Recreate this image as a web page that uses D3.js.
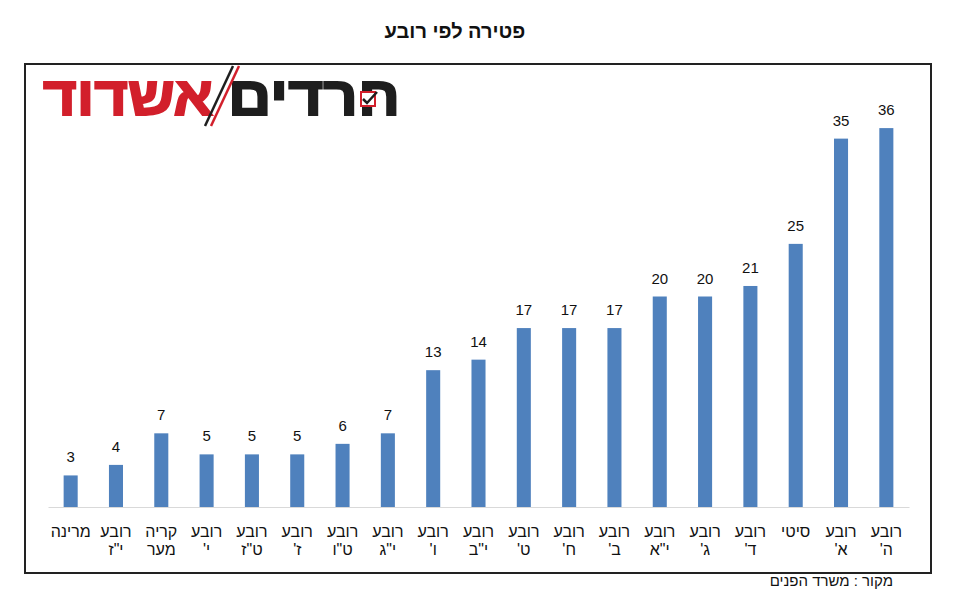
<!DOCTYPE html>
<html lang="he">
<head>
    <meta charset="UTF-8">
    <title>פטירה לפי רובע</title>
    <script src="https://cdn.jsdelivr.net/npm/d3@7"></script>
    <style>
        body { margin: 0; background: #fff; }
        #chart { width: 955px; height: 606px; }
        text { font-family: "Liberation Sans", Arial, sans-serif; }
    </style>
</head>
<body>
<div id="chart"></div>
<script type="text/javascript">
    // data, left to right as in the picture
    var categories = ['מרינה', 'רובע י"ז', 'קריה מער', "רובע י'", 'רובע ט"ז', "רובע ז'", 'רובע ט"ו',
        'רובע י"ג', "רובע ו'", 'רובע י"ב', "רובע ט'", "רובע ח'", "רובע ב'", 'רובע י"א',
        "רובע ג'", "רובע ד'", 'סיטי', "רובע א'", "רובע ה'"];
    var values = [3, 4, 7, 5, 5, 5, 6, 7, 13, 14, 17, 17, 17, 20, 20, 21, 25, 35, 36];
    var title = 'פטירה לפי רובע';
    var source = 'מקור : משרד הפנים';

    var svgw = 955, svgh = 606;
    var svg = d3.select('#chart')
        .append('svg')
        .attr('width', svgw)
        .attr('height', svgh);

    // title
    svg.append('text')
        .text(title)
        .attr('x', 455)
        .attr('y', 38)
        .attr('text-anchor', 'middle')
        .attr('direction', 'rtl')
        .attr('font-size', 20)
        .attr('font-weight', 'bold')
        .attr('fill', '#111');

    // frame
    svg.append('rect')
        .attr('x', 25).attr('y', 64)
        .attr('width', 906).attr('height', 509)
        .attr('fill', 'none')
        .attr('stroke', '#222')
        .attr('stroke-width', 2);

    // logo
    var logo = svg.append('g');
    logo.append('text')
        .text('אשדוד')
        .attr('x', 43).attr('y', 115)
        .attr('font-size', 54).attr('font-weight', 'bold')
        .attr('textLength', 170).attr('lengthAdjust', 'spacingAndGlyphs')
        .attr('fill', '#d21f2b').attr('stroke', '#d21f2b').attr('stroke-width', 2);
    logo.append('text')
        .text('חרדים')
        .attr('x', 228).attr('y', 115)
        .attr('font-size', 54).attr('font-weight', 'bold')
        .attr('textLength', 172).attr('lengthAdjust', 'spacingAndGlyphs')
        .attr('fill', '#1e1e1e').attr('stroke', '#1e1e1e').attr('stroke-width', 2);
    logo.append('line')
        .attr('x1', 233).attr('y1', 66).attr('x2', 205).attr('y2', 126)
        .attr('stroke', '#1e1e1e').attr('stroke-width', 2.5);
    logo.append('line')
        .attr('x1', 239).attr('y1', 66).attr('x2', 211).attr('y2', 126)
        .attr('stroke', '#d21f2b').attr('stroke-width', 2.5);
    logo.append('rect')
        .attr('x', 361).attr('y', 92).attr('width', 14).attr('height', 14)
        .attr('fill', '#fff').attr('stroke', '#d21f2b').attr('stroke-width', 2);
    logo.append('path')
        .attr('d', 'M363,99 L367,103 L377,92')
        .attr('fill', 'none').attr('stroke', '#1e1e1e').attr('stroke-width', 2.5);

    var x_scale = d3.scaleBand()
        .domain(categories)
        .range([48, 909])
        .paddingInner(0.69)
        .paddingOuter(0.345);

    var y_scale = d3.scaleLinear()
        .domain([0, 40])
        .range([507, 86]);

    // bars
    svg.selectAll('rect.bar')
        .data(values)
        .enter()
        .append('rect')
        .attr('class', 'bar')
        .attr('x', function (d, i) { return x_scale(categories[i]); })
        .attr('y', function (d) { return y_scale(d); })
        .attr('width', x_scale.bandwidth())
        .attr('height', function (d) { return y_scale(0) - y_scale(d); })
        .attr('fill', '#4f81bd');

    // x axis
    var x_axis = d3.axisBottom(x_scale).tickSize(0).tickFormat('');
    var gx = svg.append('g')
        .attr('transform', 'translate(0,' + y_scale(0) + ')')
        .call(x_axis);
    gx.select('.domain').attr('stroke', '#d9d9d9').attr('stroke-width', 1);

    gx.selectAll('.tick text').remove();
    gx.selectAll('.tick').each(function (d) {
        var words = d.split(' ');
        var t = d3.select(this).append('text')
            .attr('text-anchor', 'middle')
            .attr('direction', 'rtl')
            .attr('font-size', 16)
            .attr('fill', '#111');
        words.forEach(function (w, k) {
            t.append('tspan')
                .attr('x', 0)
                .attr('y', 30 + k * 18)
                .text(w);
        });
    });

    // value labels
    svg.selectAll('text.val')
        .data(values)
        .enter()
        .append('text')
        .attr('class', 'val')
        .text(function (d) { return d; })
        .attr('x', function (d, i) { return x_scale(categories[i]) + x_scale.bandwidth() / 2; })
        .attr('y', function (d) { return y_scale(d) - 13; })
        .attr('text-anchor', 'middle')
        .attr('font-size', 15)
        .attr('fill', '#111');

    // source
    svg.append('text')
        .text(source)
        .attr('x', 893)
        .attr('y', 586)
        .attr('text-anchor', 'start')
        .attr('direction', 'rtl')
        .attr('font-size', 15)
        .attr('fill', '#111');
</script>
</body>
</html>
